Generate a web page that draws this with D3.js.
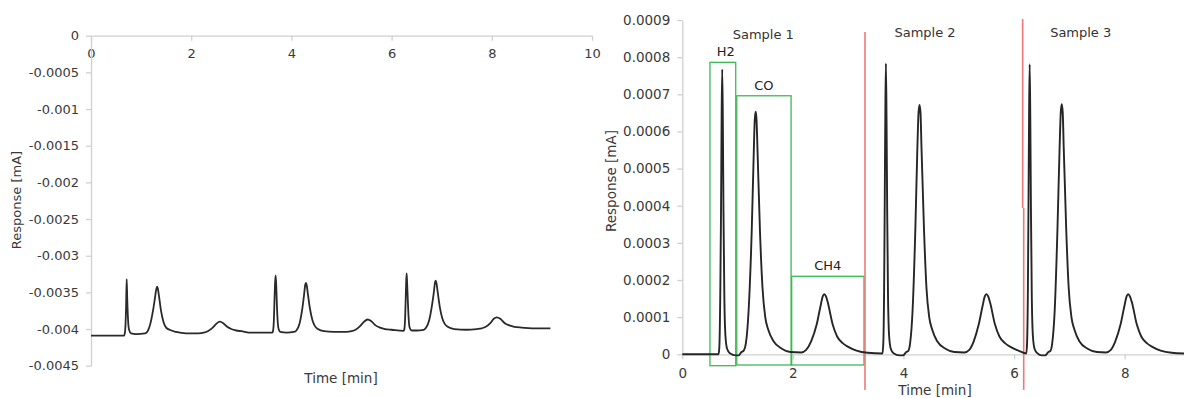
<!DOCTYPE html>
<html>
<head>
<meta charset="utf-8">
<script src="https://cdn.jsdelivr.net/npm/d3@7/dist/d3.min.js"></script>
<style>
  html, body { margin: 0; padding: 0; background: #ffffff; }
  svg { display: block; font-family: "DejaVu Sans", Verdana, sans-serif; }
</style>
</head>
<body>
<svg id="chart" width="1184" height="398"></svg>
<script>
// ---------------- DATA ----------------
// Left panel: raw detector trace [time (min), response (mA)]
const leftTrace = [
  [0, -0.00409], [0.66, -0.00409], [0.675, -0.00406], [0.69, -0.00392], [0.70, -0.00371],
  [0.712, -0.00332], [0.725, -0.00362], [0.74, -0.00388], [0.76, -0.00401], [0.80, -0.00406],
  [0.9, -0.00407], [1.08, -0.00406], [1.13, -0.00403], [1.18, -0.00394], [1.24, -0.00374],
  [1.28, -0.00356], [1.305, -0.00345], [1.32, -0.003423], [1.335, -0.00345], [1.355, -0.00354],
  [1.40, -0.00376], [1.45, -0.00391],
  [1.5, -0.00398], [1.57, -0.00401], [1.7, -0.00404], [1.9, -0.00406], [2.15, -0.00406],
  [2.25, -0.00405], [2.33, -0.00403], [2.43, -0.00398], [2.5, -0.00393], [2.57, -0.0039],
  [2.64, -0.00392], [2.72, -0.00397], [2.8, -0.004], [2.9, -0.00402], [3.0, -0.00403],
  [3.2, -0.00405], [3.62, -0.00405], [3.635, -0.00402], [3.65, -0.00388], [3.66, -0.00366],
  [3.672, -0.0034], [3.685, -0.00327], [3.697, -0.0034], [3.71, -0.00366], [3.725, -0.00388],
  [3.745, -0.004], [3.78, -0.00404], [3.9, -0.00405], [4.05, -0.00404], [4.1, -0.00402],
  [4.16, -0.00393], [4.22, -0.00371], [4.255, -0.00352], [4.275, -0.0034], [4.29, -0.00337],
  [4.305, -0.0034], [4.325, -0.0035],
  [4.37, -0.00372], [4.42, -0.00388], [4.47, -0.00396], [4.53, -0.004], [4.65, -0.00403],
  [4.85, -0.00404], [5.1, -0.00404], [5.2, -0.00403], [5.28, -0.00401], [5.37, -0.00396],
  [5.45, -0.0039], [5.52, -0.00387], [5.59, -0.00389], [5.68, -0.00395], [5.77, -0.00398],
  [5.87, -0.004], [6.0, -0.00401], [6.24, -0.004025], [6.255, -0.004], [6.27, -0.00385],
  [6.28, -0.00362], [6.29, -0.00338], [6.30, -0.00324], [6.31, -0.00337], [6.325, -0.00363],
  [6.34, -0.00385], [6.36, -0.00398], [6.4, -0.00402], [6.5, -0.00402], [6.64, -0.00401],
  [6.69, -0.00398], [6.75, -0.00388], [6.81, -0.00366], [6.845, -0.00349], [6.865, -0.00337],
  [6.88, -0.00334], [6.895, -0.00337], [6.915, -0.00347], [6.96, -0.00369], [7.01, -0.00385],
  [7.06, -0.00393], [7.12, -0.00397],
  [7.25, -0.004], [7.5, -0.00401], [7.7, -0.004], [7.8, -0.00399], [7.88, -0.00397],
  [7.97, -0.00392], [8.04, -0.00386], [8.10, -0.00384], [8.17, -0.00386], [8.26, -0.00392],
  [8.35, -0.00395], [8.45, -0.00397], [8.6, -0.00398], [8.8, -0.00399], [9.17, -0.00399]
];

// Right panel: baseline-corrected trace [time (min), response (mA)]
const rightTrace = [
  [0, 0], [0.655, 0], [0.67, 0.00002], [0.688, 0.00018], [0.70, 0.00038], [0.712, 0.00065],
  [0.722, 0.000767], [0.733, 0.00063], [0.745, 0.00038], [0.76, 0.00016], [0.78, 0.00005],
  [0.81, 0.000015], [0.86, 0.000003], [0.97, -0.000003], [1.02, -0.000003], [1.07, 0.000006],
  [1.11, 0.00001], [1.15, 0.00003], [1.2, 0.00012], [1.255, 0.00033], [1.29, 0.00053],
  [1.31, 0.00063], [1.327, 0.000653], [1.343, 0.00063], [1.36, 0.00055], [1.405, 0.00033],
  [1.45, 0.00018], [1.5, 0.0001],
  [1.555, 0.000066], [1.65, 0.000035], [1.8, 0.000015], [1.95, 0.000006], [2.15, 0.000005],
  [2.24, 0.000012], [2.33, 0.000035], [2.43, 0.00008], [2.5, 0.00013], [2.54, 0.000156],
  [2.568, 0.0001615], [2.6, 0.000155], [2.63, 0.00014], [2.72, 0.00008], [2.8, 0.000048],
  [2.9, 0.00003], [3.0, 0.00002],
  [3.15, 0.00001], [3.35, 0.000004], [3.62, 0.000002],
  [3.635, 0.00003], [3.65, 0.00018], [3.66, 0.00039], [3.672, 0.00066], [3.682, 0.000783],
  [3.693, 0.00064], [3.705, 0.00039], [3.72, 0.00016], [3.74, 0.00005], [3.77, 0.000015],
  [3.82, 0.000003], [3.93, -0.000003], [3.99, -0.000003], [4.05, 0.000006], [4.09, 0.00001],
  [4.12, 0.00003], [4.165, 0.00012], [4.215, 0.00034], [4.25, 0.00055], [4.272, 0.00065],
  [4.29, 0.000671], [4.308, 0.00065],
  [4.325, 0.00056], [4.37, 0.00034], [4.415, 0.00018], [4.465, 0.0001], [4.52, 0.000066],
  [4.61, 0.000035], [4.76, 0.000015], [4.92, 0.000006], [5.1, 0.000005], [5.19, 0.000012],
  [5.27, 0.000035], [5.36, 0.00008], [5.43, 0.00013], [5.47, 0.000156], [5.50, 0.000162],
  [5.532, 0.000156], [5.565, 0.00014],
  [5.655, 0.00008], [5.735, 0.000048], [5.835, 0.00003], [5.935, 0.00002], [6.08, 0.00001],
  [6.22, 0.000002],
  [6.235, 0.00003], [6.25, 0.00018], [6.26, 0.00039], [6.272, 0.00066], [6.282, 0.000781],
  [6.293, 0.00064], [6.305, 0.00039], [6.32, 0.00016], [6.34, 0.00005], [6.37, 0.000015],
  [6.42, 0.000003], [6.50, -0.000003], [6.56, -0.000003], [6.62, 0.000006], [6.66, 0.00001],
  [6.69, 0.00003], [6.735, 0.00012], [6.785, 0.00034], [6.822, 0.00055], [6.844, 0.00065],
  [6.862, 0.000673], [6.88, 0.00065],
  [6.897, 0.00056], [6.942, 0.00034], [6.987, 0.00018], [7.037, 0.0001], [7.092, 0.000066],
  [7.18, 0.000035], [7.33, 0.000015], [7.5, 0.000006], [7.66, 0.000005], [7.75, 0.000012],
  [7.83, 0.000035], [7.925, 0.00008], [7.995, 0.00013], [8.035, 0.000156], [8.065, 0.0001615],
  [8.097, 0.000155], [8.13, 0.00014],
  [8.22, 0.00008], [8.3, 0.000048], [8.4, 0.00003], [8.5, 0.00002], [8.65, 0.00001],
  [8.85, 0.000004], [9.1, 0.000002]
];

// Tick labels
const leftXTicks = [0, 2, 4, 6, 8, 10];
const leftYTicks = [0, -0.0005, -0.001, -0.0015, -0.002, -0.0025, -0.003, -0.0035, -0.004, -0.0045];
const rightXTicks = [0, 2, 4, 6, 8];
const rightYTicks = [0, 0.0001, 0.0002, 0.0003, 0.0004, 0.0005, 0.0006, 0.0007, 0.0008, 0.0009];

// Peak windows (green boxes): [label, t0, t1, bottom, top]
const peakBoxes = [
  ["H2", 0.50, 0.966, -0.0000307, 0.000786],
  ["CO", 0.985, 1.967, -0.0000288, 0.000696],
  ["CH4", 1.978, 3.286, -0.0000288, 0.00021]
];
// Sample separators (red lines): [t, top, bottom]
const separators = [
  [3.304, 0.000868, -0.0000958],
  [6.155, 0.0009026, 0.000394],
  [6.174, 0.000394, -0.0000958]
];
// Sample labels: [text, t, value]
const sampleLabels = [
  ["Sample 1", 1.465, 0.00085],
  ["Sample 2", 4.39, 0.000854],
  ["Sample 3", 7.205, 0.000854]
];

// ---------------- DRAW ----------------
const svg = d3.select("#chart");
const axisColor = "#d0d0d0";
const textColor = "#3a3a3a";
const fmt = d => d === 0 ? "0" : String(+d.toFixed(4));

function styleAxis(g, fontSize) {
  g.select(".domain").attr("stroke", axisColor).attr("stroke-width", 1.3);
  g.selectAll(".tick line").attr("stroke", axisColor).attr("stroke-width", 1.3);
  g.selectAll(".tick text").attr("fill", textColor)
    .style("font-size", fontSize + "px").style("font-family", "'DejaVu Sans', Verdana, sans-serif");
}

// ----- Left panel -----
const xL = d3.scaleLinear().domain([0, 10]).range([91, 592]);
const yL = d3.scaleLinear().domain([0, -0.0045]).range([35.7, 365.7]);

svg.append("g").attr("transform", `translate(0,${yL(0)})`)
  .call(d3.axisBottom(xL).tickValues(leftXTicks).tickFormat(d3.format("d"))
    .tickSize(5).tickPadding(8.5).tickSizeOuter(0))
  .call(g => styleAxis(g, 13));

svg.append("g").attr("transform", `translate(${xL(0)},0)`)
  .call(d3.axisLeft(yL).tickValues(leftYTicks).tickFormat(fmt)
    .tickSize(5).tickPadding(7).tickSizeOuter(0))
  .call(g => styleAxis(g, 13));

svg.append("path").datum(leftTrace)
  .attr("fill", "none").attr("stroke", "#2a2a2a").attr("stroke-width", 1.8)
  .attr("stroke-linejoin", "round")
  .attr("d", d3.line().x(d => xL(d[0])).y(d => yL(d[1])).curve(d3.curveMonotoneX));

svg.append("text").attr("transform", "translate(21,200) rotate(-90)")
  .attr("text-anchor", "middle").attr("fill", textColor).style("font-size", "13px")
  .text("Response [mA]");
svg.append("text").attr("x", 341).attr("y", 382.5)
  .attr("text-anchor", "middle").attr("fill", textColor).style("font-size", "13.5px")
  .text("Time [min]");

// ----- Right panel -----
const xR = d3.scaleLinear().domain([0, 9.08]).range([682.3, 1184.4]);
const yR = d3.scaleLinear().domain([0, 0.0009]).range([354.3, 20]);

svg.append("g").attr("transform", `translate(0,${yR(0)})`)
  .call(d3.axisBottom(xR).tickValues(rightXTicks).tickFormat(d3.format("d"))
    .tickSize(5).tickPadding(9.5).tickSizeOuter(0))
  .call(g => styleAxis(g, 13.5));

svg.append("g").attr("transform", `translate(${xR(0)},0)`)
  .call(d3.axisLeft(yR).tickValues(rightYTicks).tickFormat(fmt)
    .tickSize(5).tickPadding(7).tickSizeOuter(0))
  .call(g => styleAxis(g, 13.5));

// green peak windows
svg.append("g").selectAll("rect").data(peakBoxes).join("rect")
  .attr("x", d => xR(d[1])).attr("width", d => xR(d[2]) - xR(d[1]))
  .attr("y", d => yR(d[4])).attr("height", d => yR(d[3]) - yR(d[4]))
  .attr("fill", "none").attr("stroke", "#3cba54").attr("stroke-width", 1.3);

svg.append("g").selectAll("text").data(peakBoxes).join("text")
  .attr("x", d => (d[0] === "H2" ? xR(0.785) : (xR(d[1]) + xR(d[2])) / 2))
  .attr("y", d => yR(d[4]) - 6)
  .attr("text-anchor", "middle").attr("fill", "#222").style("font-size", "13px")
  .text(d => d[0]);

// red separators
svg.append("g").selectAll("line").data(separators).join("line")
  .attr("x1", d => xR(d[0])).attr("x2", d => xR(d[0]))
  .attr("y1", d => yR(d[1])).attr("y2", d => yR(d[2]))
  .attr("stroke", "#f07878").attr("stroke-width", 1.6);

// trace
svg.append("path").datum(rightTrace)
  .attr("fill", "none").attr("stroke", "#262626").attr("stroke-width", 1.9)
  .attr("stroke-linejoin", "round")
  .attr("d", d3.line().x(d => xR(d[0])).y(d => yR(d[1])).curve(d3.curveMonotoneX));

// sample labels
svg.append("g").selectAll("text").data(sampleLabels).join("text")
  .attr("x", d => xR(d[1])).attr("y", d => yR(d[2]))
  .attr("text-anchor", "middle").attr("fill", "#333").style("font-size", "13px")
  .text(d => d[0]);

svg.append("text").attr("transform", "translate(616,181) rotate(-90)")
  .attr("text-anchor", "middle").attr("fill", textColor).style("font-size", "13.5px")
  .text("Response [mA]");
svg.append("text").attr("x", 935).attr("y", 395)
  .attr("text-anchor", "middle").attr("fill", textColor).style("font-size", "13.5px")
  .text("Time [min]");
</script>
</body>
</html>
